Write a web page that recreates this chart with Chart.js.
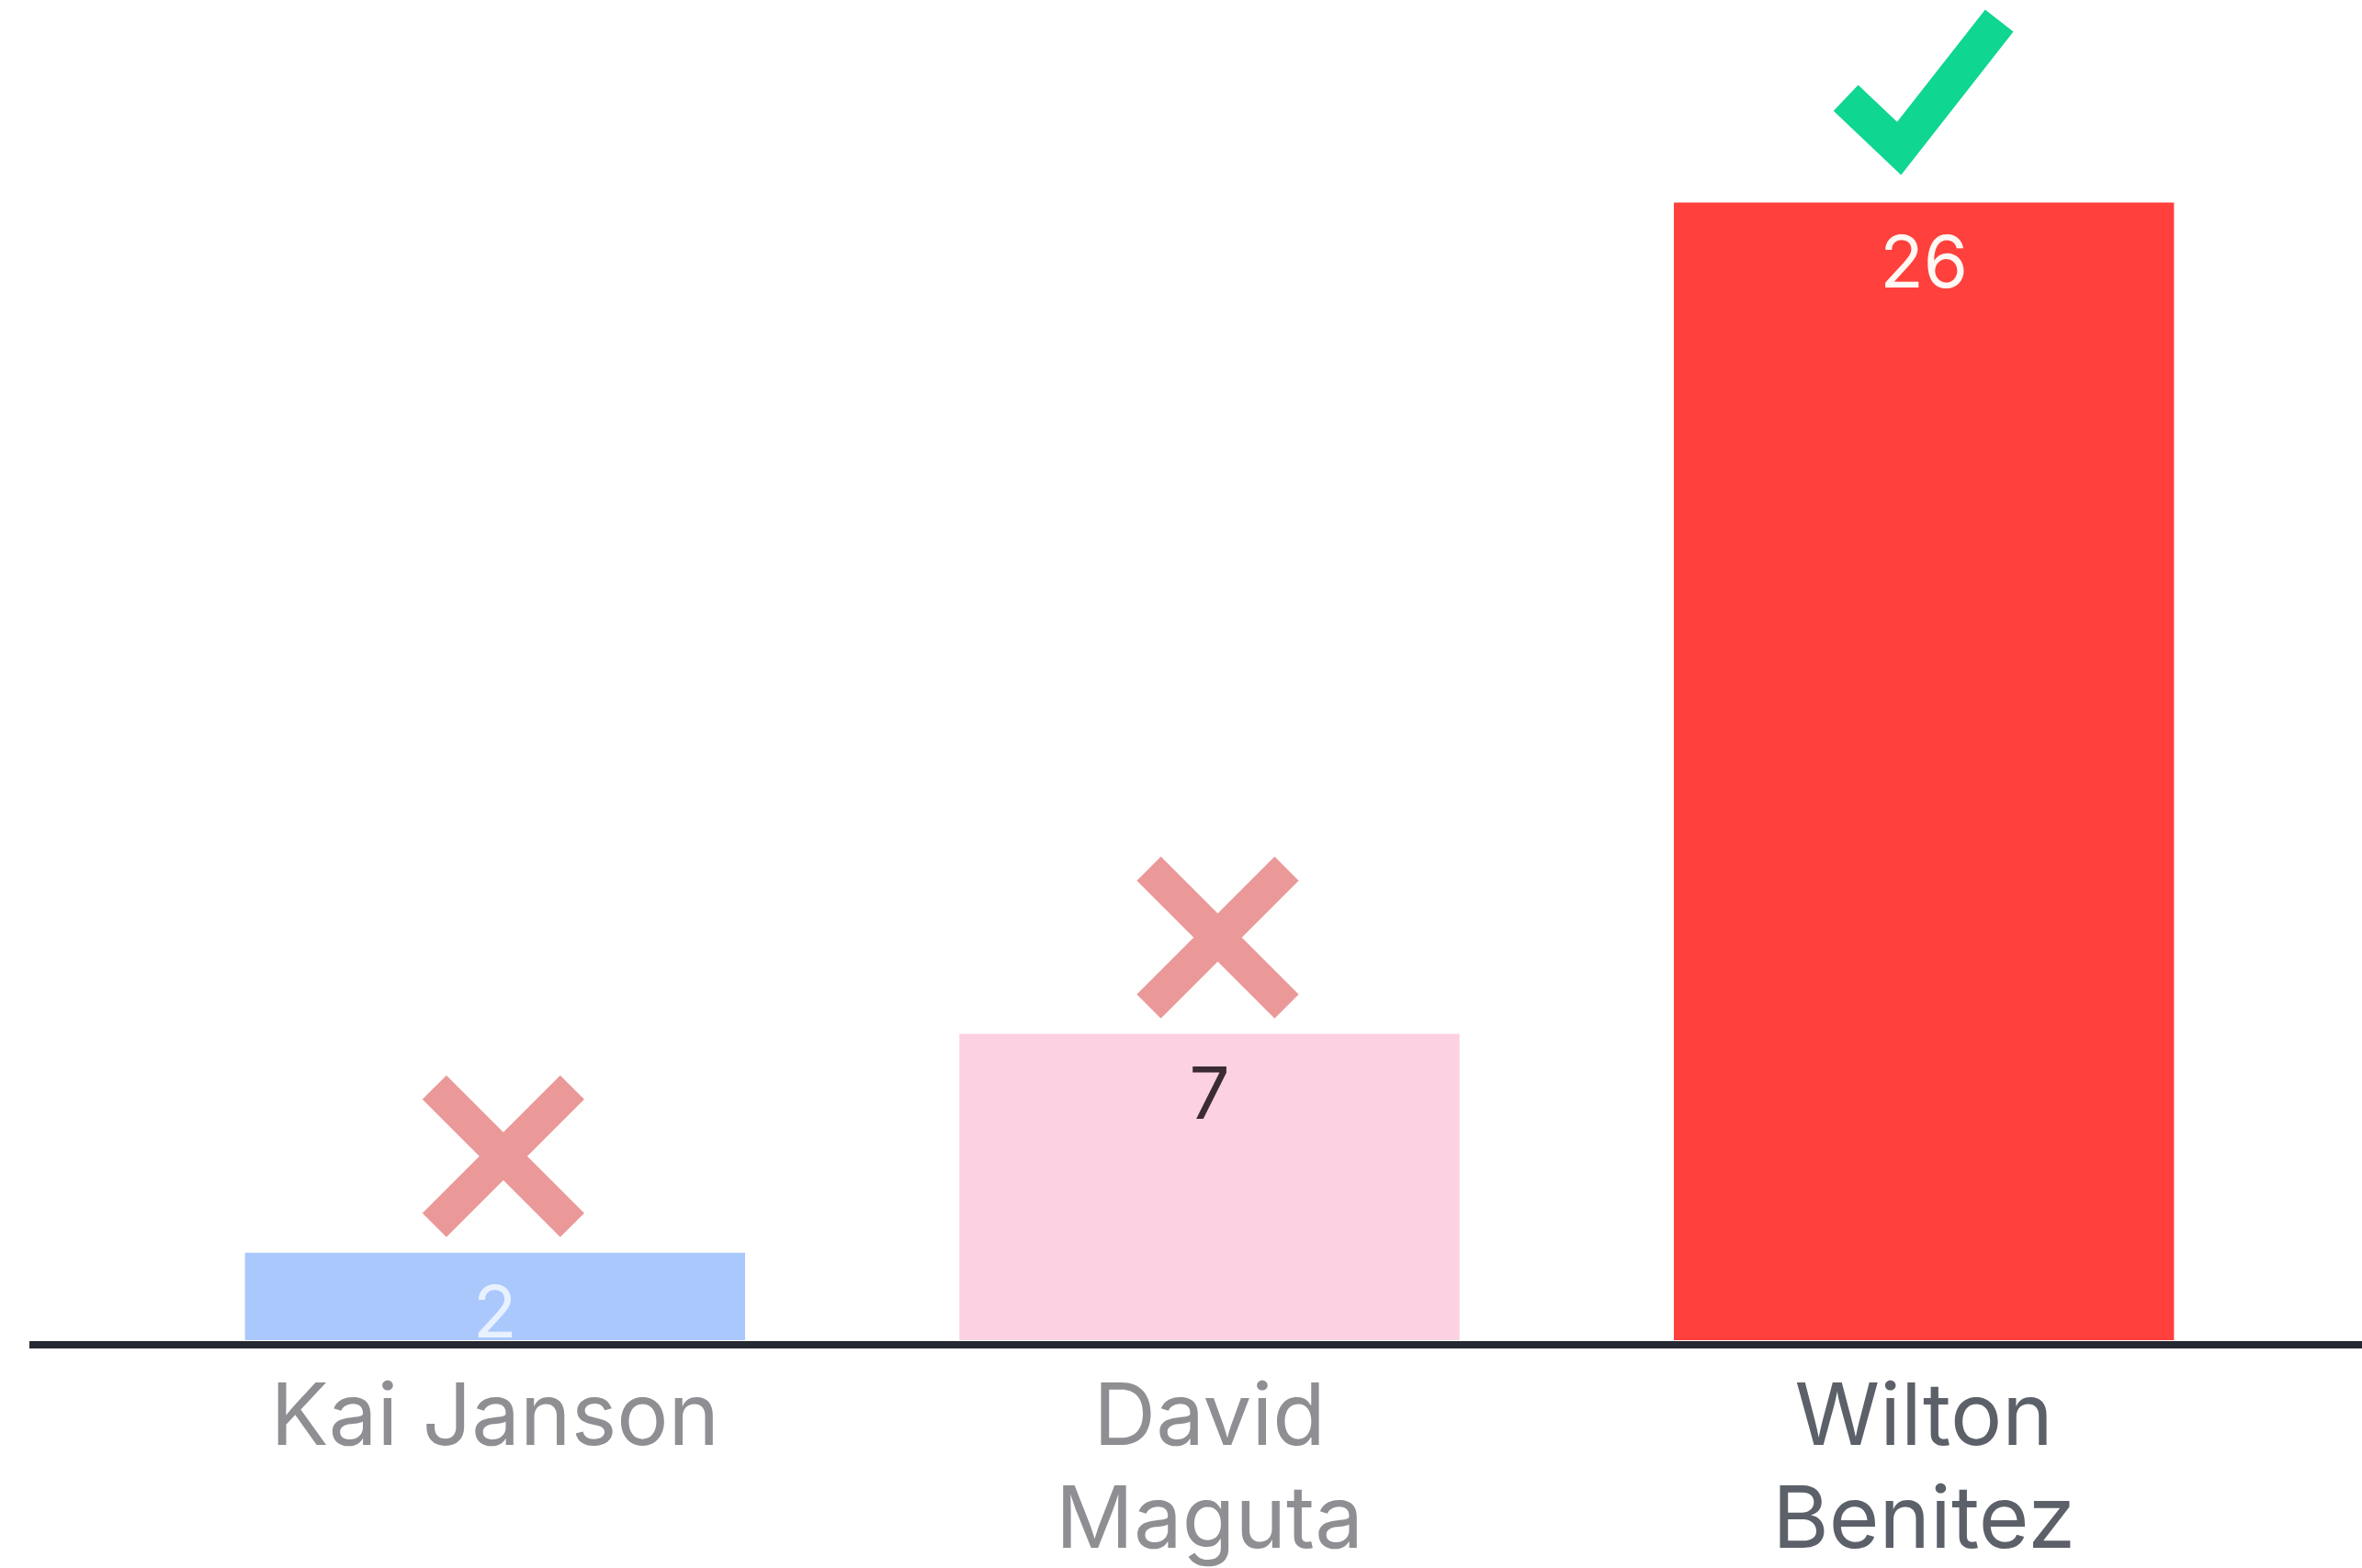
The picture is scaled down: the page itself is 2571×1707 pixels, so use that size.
<!DOCTYPE html>
<html>
<head>
<meta charset="utf-8">
<script src="https://cdn.jsdelivr.net/npm/chart.js@4"></script>
<style>
  body { margin: 0; background: #fff; }
  .chart_div { width: 2571px; height: 1707px; position: relative; }
</style>
</head>
<body>
<div class="chart_div"><canvas id="myChart"></canvas></div>
<script>
// chart data
const names = [["Kai Janson"], ["David", "Maguta"], ["Wilton", "Benitez"]];
const votes = [2, 7, 26];
const marks = ["cross", "cross", "check"];
const barColors = ["#aac8fc", "#fcd1e1", "#ff403c"];
const valueColors = ["#e8f1ff", "#3b2b35", "#fff8f4"];
const labelColors = ["#8e8e93", "#8e8e93", "#5c6068"];

// numbers written inside the top of each bar
const valueLabels = {
  id: "valueLabels",
  afterDatasetsDraw(chart) {
    const ctx = chart.ctx;
    const meta = chart.getDatasetMeta(0);
    ctx.save();
    ctx.font = "400 78px Inter";
    ctx.textAlign = "center";
    ctx.textBaseline = "alphabetic";
    meta.data.forEach((bar, i) => {
      ctx.fillStyle = valueColors[i];
      ctx.fillText(String(votes[i]), bar.x, bar.y + 92);
    });
    ctx.restore();
  }
};

// cross / tick above each bar
const markIcons = {
  id: "markIcons",
  afterDatasetsDraw(chart) {
    const ctx = chart.ctx;
    const meta = chart.getDatasetMeta(0);
    ctx.save();
    meta.data.forEach((bar, i) => {
      ctx.beginPath();
      if (marks[i] === "cross") {
        const cx = bar.x + 9, cy = bar.y - 105, r = 75;
        ctx.moveTo(cx - r, cy - r); ctx.lineTo(cx + r, cy + r);
        ctx.moveTo(cx + r, cy - r); ctx.lineTo(cx - r, cy + r);
        ctx.strokeStyle = "#eb9899";
        ctx.lineWidth = 37;
        ctx.lineCap = "butt";
      } else {
        ctx.moveTo(bar.x - 85, bar.y - 114);
        ctx.lineTo(bar.x - 27, bar.y - 59);
        ctx.lineTo(bar.x + 82, bar.y - 198);
        ctx.strokeStyle = "#0fd690";
        ctx.lineWidth = 39;
        ctx.lineCap = "butt";
        ctx.lineJoin = "miter";
      }
      ctx.stroke();
    });
    ctx.restore();
  }
};

// dark base line running across the whole width
const baseLine = {
  id: "baseLine",
  afterDatasetsDraw(chart) {
    const ctx = chart.ctx;
    const y0 = chart.scales.y.getPixelForValue(0);
    ctx.save();
    ctx.fillStyle = "#262832";
    ctx.fillRect(32, y0 + 1, chart.width - 32, 8);
    ctx.restore();
  }
};

const ctx = document.getElementById("myChart").getContext("2d");
const chart = new Chart(ctx, {
  type: "bar",
  data: {
    labels: names,
    datasets: [{
      data: votes,
      backgroundColor: barColors,
      borderWidth: 0,
      barPercentage: 1,
      categoryPercentage: 0.7
    }]
  },
  options: {
    responsive: true,
    maintainAspectRatio: false,
    animation: false,
    layout: { padding: { left: 150, right: 88, top: 30, bottom: 0 } },
    plugins: { legend: { display: false }, tooltip: { enabled: false } },
    scales: {
      y: { display: false, min: 0, max: 30 },
      x: {
        grid: { display: false },
        border: { display: false },
        ticks: {
          autoSkip: false,
          maxRotation: 0,
          padding: 22,
          font: { family: "Inter", size: 94, weight: 400, lineHeight: 1.19 },
          color: (c) => labelColors[c.index]
        },
        afterFit(scale) { scale.height = 248; }
      }
    }
  },
  plugins: [valueLabels, markIcons, baseLine]
});
</script>
</body>
</html>
